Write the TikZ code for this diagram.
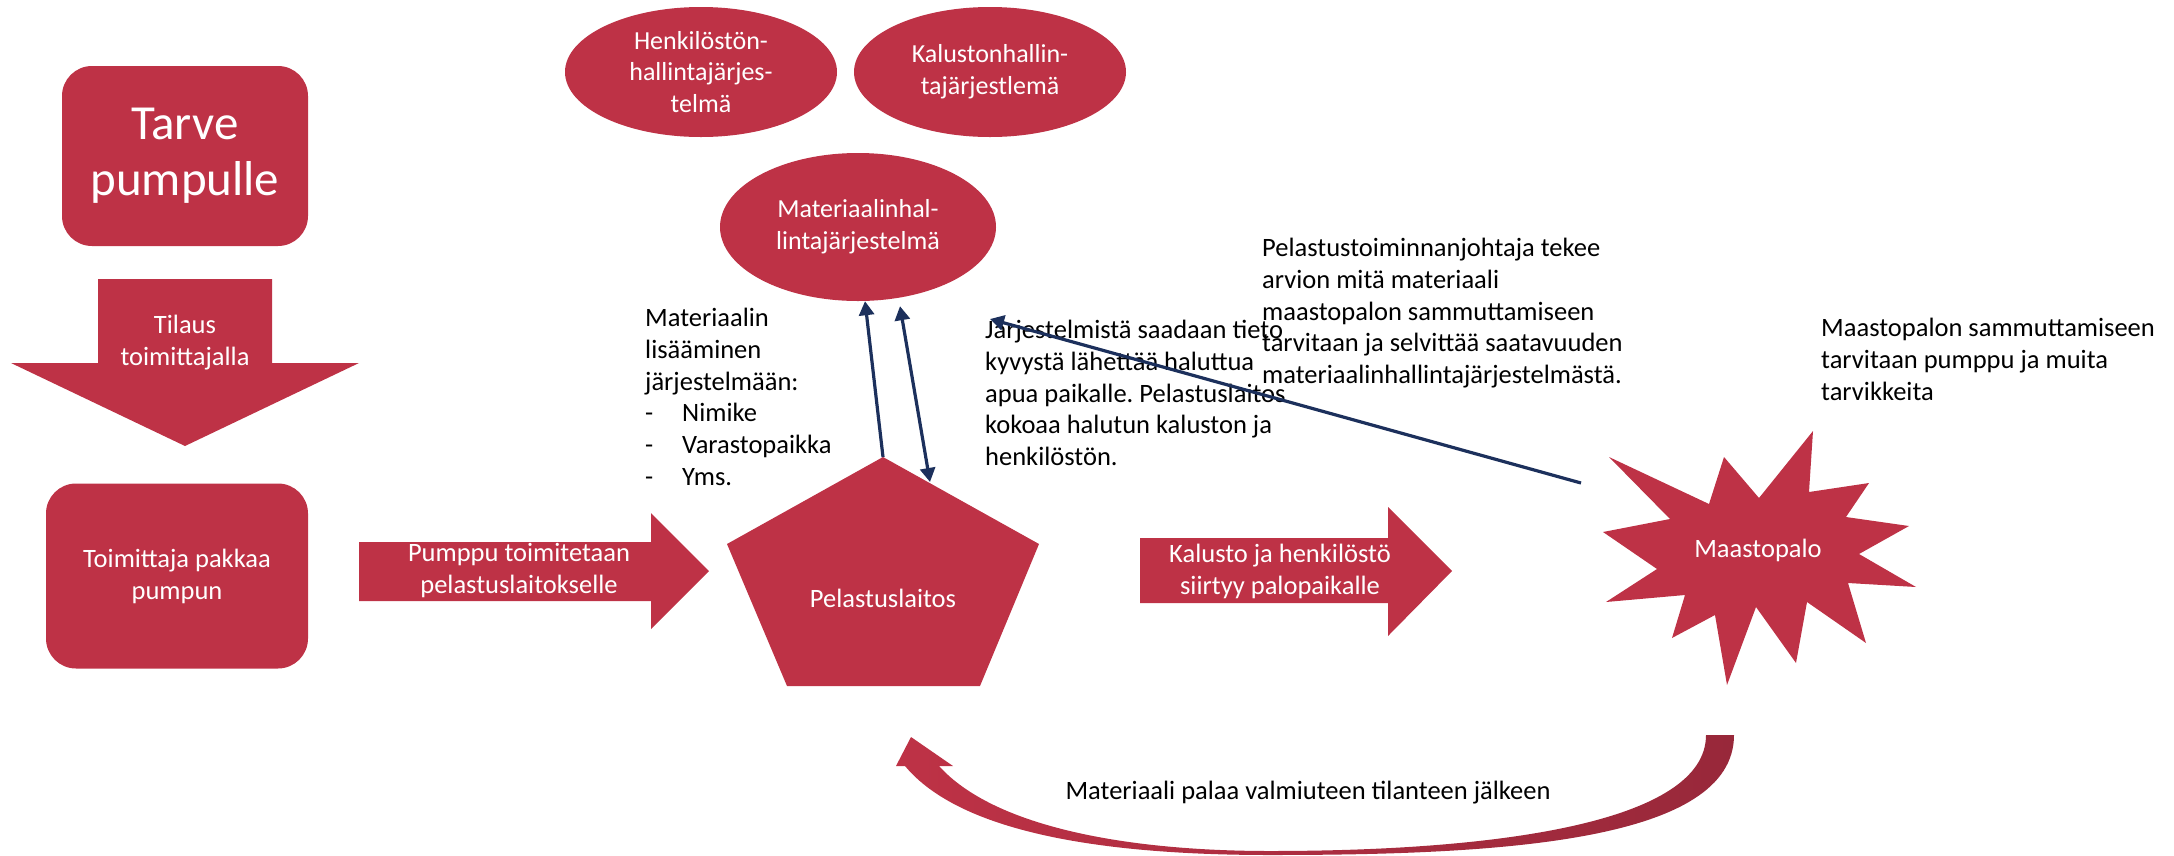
\documentclass[tikz,border=0pt]{standalone}
\usepackage{fontspec}
\setmainfont{Carlito}
\frenchspacing
\usetikzlibrary{arrows.meta, shapes.geometric, calc}
\definecolor{cRed}{RGB}{190,50,70}
\definecolor{cRedDark}{RGB}{152,40,58}
\definecolor{cNavy}{RGB}{28,48,92}
\tikzset{
  redshape/.style={fill=cRed, draw=none},
  shapetext/.style={align=center, text=white, inner sep=0pt,
                    font=\fontsize{26.5}{32}\selectfont},
  plaintext/.style={align=left, text=black, inner sep=0pt, anchor=north west,
                    font=\fontsize{26.5}{31.7}\selectfont},
  roundbox/.style={rectangle, rounded corners=30pt, fill=cRed, draw=none,
                   align=center, text=white, inner sep=0pt},
  sysellipse/.style={ellipse, fill=cRed, draw=none, align=center, text=white,
                     inner sep=0pt, font=\fontsize{26}{31.7}\selectfont},
  navyarrow/.style={-{Triangle[length=14pt, width=15pt]}, line width=3.2pt, draw=cNavy},
  navyboth/.style={{Triangle[length=14pt, width=15pt]}-{Triangle[length=14pt, width=15pt]},
                   line width=3.2pt, draw=cNavy}
}

\begin{document}
\begin{tikzpicture}[x=1pt, y=-1pt]
  \useasboundingbox (0,0) rectangle (2174,855);

  % left column
  \node[roundbox, minimum width=246pt, minimum height=180pt,
        font=\fontsize{49}{56}\selectfont] (tarve) at (185,156) {Tarve\\pumpulle};
  \fill[redshape] (98,279) -- (272,279) -- (272,363) -- (359,363) -- (185,446)
        -- (11,363) -- (98,363) -- cycle;
  \node[shapetext] (tilaus) at (185,343) {Tilaus\\toimittajalla};
  \node[roundbox, minimum width=262pt, minimum height=185pt,
        font=\fontsize{26.5}{32}\selectfont] (toimittaja) at (177,576) {Toimittaja pakkaa\\pumpun};

  % block arrows
  \fill[redshape] (359,542) -- (651,542) -- (651,513) -- (709,571) -- (651,629)
        -- (651,601) -- (359,601) -- cycle;
  \node[shapetext] (toimitus) at (519,571) {Pumppu toimitetaan\\pelastuslaitokselle};
  \fill[redshape] (1140,538) -- (1388,538) -- (1388,507) -- (1452,571) -- (1388,636)
        -- (1388,603) -- (1140,603) -- cycle;
  \node[shapetext] (siirto) at (1280,571) {Kalusto ja henkilöstö\\siirtyy palopaikalle};

  % pelastuslaitos
  \fill[redshape] (883,457) -- (1039,544) -- (980,686) -- (787,686) -- (727,544) -- cycle;
  \node[shapetext] (pelastus) at (883,598) {Pelastuslaitos};
  \coordinate (pentTop) at (883,457);
  \coordinate (pentEdge) at (930,482);

  % systems
  \node[sysellipse, minimum width=272pt, minimum height=130pt] (henkilosto) at (701,72)
      {Henkilöstön-\\hallintajärjes-\\telmä};
  \node[sysellipse, minimum width=272pt, minimum height=130pt] (kalusto) at (990,72)
      {Kalustonhallin-\\tajärjestlemä};
  \node[sysellipse, minimum width=276pt, minimum height=148pt] (materiaali) at (858,227)
      {Materiaalinhal-\\lintajärjestelmä};

  % maastopalo
  \fill[redshape] (1609,457) -- (1709,504) -- (1724,457) -- (1759,498) -- (1813,431)
        -- (1809,492) -- (1869,483) -- (1846,517) -- (1909,526) -- (1859,554)
        -- (1916,587) -- (1848,583) -- (1866,643) -- (1807,602) -- (1796,663)
        -- (1756,607) -- (1727,685) -- (1715,615) -- (1672,638) -- (1685,595)
        -- (1606,602) -- (1657,569) -- (1603,532) -- (1670,519) -- cycle;
  \node[shapetext] (palo) at (1758,550) {Maastopalo};
  \coordinate (paloTail) at (1581,483);

  % texts
  \node[plaintext] (lisays) at (645,308)
      {Materiaalin\\lisääminen\\järjestelmään:\\
       \makebox[37pt][l]{-}Nimike\\\makebox[37pt][l]{-}Varastopaikka\\\makebox[37pt][l]{-}Yms.};
  \node[plaintext] (tieto) at (985,320)
      {Järjestelmistä saadaan tieto\\kyvystä lähettää haluttua\\apua paikalle. Pelastuslaitos\\
       kokoaa halutun kaluston ja\\henkilöstön.};
  \node[plaintext] (arvio) at (1262,238)
      {Pelastustoiminnanjohtaja tekee\\arvion mitä materiaali\\maastopalon sammuttamiseen\\
       tarvitaan ja selvittää saatavuuden\\materiaalinhallintajärjestelmästä.};
  \node[plaintext] (tarvike) at (1821,318)
      {Maastopalon sammuttamiseen\\tarvitaan pumppu ja muita\\tarvikkeita};

  % connectors
  \draw[navyarrow] (pentTop) -- ($(materiaali.south)+(7,0)$);
  \draw[navyboth] ($(materiaali.south)+(42,5)$) -- (pentEdge);
  \draw[navyarrow] (paloTail) -- (990,319);

  % return arrow
  \shade[left color=cRed, right color=cRedDark]
    (911,737) -- (953,766) -- (939,766)
    .. controls (995,828) and (1130,851) .. (1270,851)
    .. controls (1500,851) and (1706,822) .. (1706,735)
    -- (1734,735)
    .. controls (1734,842) and (1500,855) .. (1270,855)
    .. controls (1100,855) and (960,832) .. (905,766)
    -- (896,766) -- cycle;
  \node[font=\fontsize{26.5}{32}\selectfont, inner sep=0pt] (palaa) at (1308,793)
      {Materiaali palaa valmiuteen tilanteen jälkeen};
\end{tikzpicture}
\end{document}
